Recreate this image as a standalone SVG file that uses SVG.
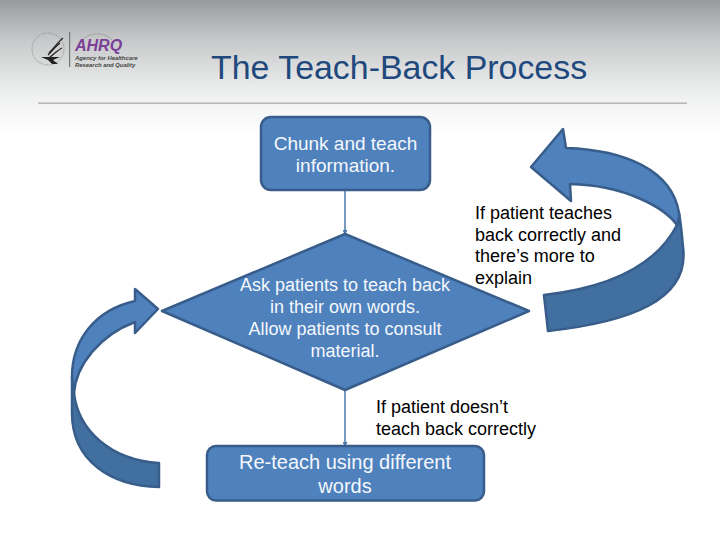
<svg xmlns="http://www.w3.org/2000/svg" width="720" height="540" viewBox="0 0 720 540">
<style>
text{font-family:"Liberation Sans",Arial,sans-serif}
.b{fill:#4f81bd;stroke:#385d8a;stroke-width:2.5;stroke-linejoin:round}
.d{fill:#416f9f;stroke:#385d8a;stroke-width:2.5;stroke-linejoin:round}
.w{fill:#f4f8fc;text-anchor:middle}
.k{fill:#000;font-size:18px}
.c{stroke:#4a78ad;stroke-width:1.5;fill:none;marker-end:url(#ah)}
.l{font-weight:700;font-style:italic;fill:#444;font-size:5.9px}
</style>
<defs>
<linearGradient id="bg" x1="0" y1="0" x2="0" y2="1"><stop offset="0" stop-color="#999a9b"/><stop offset=".3" stop-color="#c8c9ca"/><stop offset=".7" stop-color="#eff0f0"/><stop offset="1" stop-color="#fff"/></linearGradient>
<marker id="ah" markerWidth="5" markerHeight="5" refX="4" refY="2.5" orient="auto" markerUnits="userSpaceOnUse"><path d="M0 0L5 2.5L0 5Z" fill="#4a78ad"/></marker>
</defs>
<rect width="720" height="540" fill="#fff"/>
<rect width="720" height="135" fill="url(#bg)"/>
<g id="logo">
<circle cx="48" cy="49" r="16" fill="none" stroke="#8a8a8a" stroke-width=".8" stroke-dasharray="1.5 1"/>
<g fill="none" stroke="#222" stroke-width="1.3">
<path d="M63 38C58 42 54 48 49 53"/>
<path d="M60 43C56 46 53 50 48 55"/>
<path d="M62 48C58 50 54 54 50 57"/>
</g>
<path d="M41 57L50 57L60 57L53 60L58 64L52 64L48 60Z" fill="#222"/>
<rect x="69" y="32" width="1.200" height="35" fill="#777"/>
<path d="M80 43C86 33 102 30 112 40" fill="none" stroke="#999" stroke-width=".8"/>
<text x="75" y="51" font-size="16" style="font-size:16px" font-weight="700" font-style="italic" fill="#7b3f98">AHRQ</text>
<text class="l" x="75" y="60">Agency for Healthcare</text>
<text class="l" x="75" y="67">Research and Quality</text>
</g>
<text id="title" x="211" y="79" style="font-size:33.900px" fill="#1f497d">The Teach-Back Process</text>
<rect x="38" y="102.500" width="649" height="1.300" fill="#aaa"/>
<g id="connectors">
<path class="c" d="M345 190V234"/>
<path class="c" d="M345 390V446"/>
</g>
<g id="n1"><rect class="b" x="261" y="117" width="169" height="73" rx="10"/>
<text class="w" style="font-size:19px" x="345.500" y="150">Chunk and teach</text><text class="w" style="font-size:19px" x="345.500" y="172">information.</text></g>
<g id="n2"><path class="b" d="M345 234L529 311L345 390L162 311Z"/>
<text class="w" style="font-size:18px" x="345" y="291">Ask patients to teach back</text>
<text class="w" style="font-size:18px" x="345" y="313">in their own words.</text>
<text class="w" style="font-size:18px" x="345" y="335">Allow patients to consult</text>
<text class="w" style="font-size:18px" x="345" y="357">material.</text></g>
<g id="n3"><rect class="b" x="207" y="446" width="277" height="54.500" rx="9"/>
<text class="w" style="font-size:20px" x="345" y="469">Re-teach using different</text><text class="w" style="font-size:20px" x="345" y="493">words</text></g>
<g id="arrow-right">
<path class="d" d="M677 225C655 268 605 288 544 295L548 331C630 322 690 300 683 247C682 235 681 224 679 213Z"/>
<path class="b" d="M531 167L563 129L566 148C625 150 672 170 679 213C680 217 678 222 677 225C665 208 625 185 570 184L571 201Z"/>
</g>
<g id="arrow-left">
<path class="d" d="M74 393C78 430 110 460 159 463V487C110 486 72 460 72 413V377Z"/>
<path class="b" d="M158 309L135 289V301C95 310 72 340 72 377L74 393C76 365 100 335 135 322V333Z"/>
</g>
<g id="labels">
<text class="k" x="475" y="219">If patient teaches</text>
<text class="k" x="475" y="241">back correctly and</text>
<text class="k" x="475" y="262">there’s more to</text>
<text class="k" x="475" y="284">explain</text>
<text class="k" x="376" y="413">If patient doesn’t</text>
<text class="k" x="376" y="435">teach back correctly</text>
</g>
</svg>
